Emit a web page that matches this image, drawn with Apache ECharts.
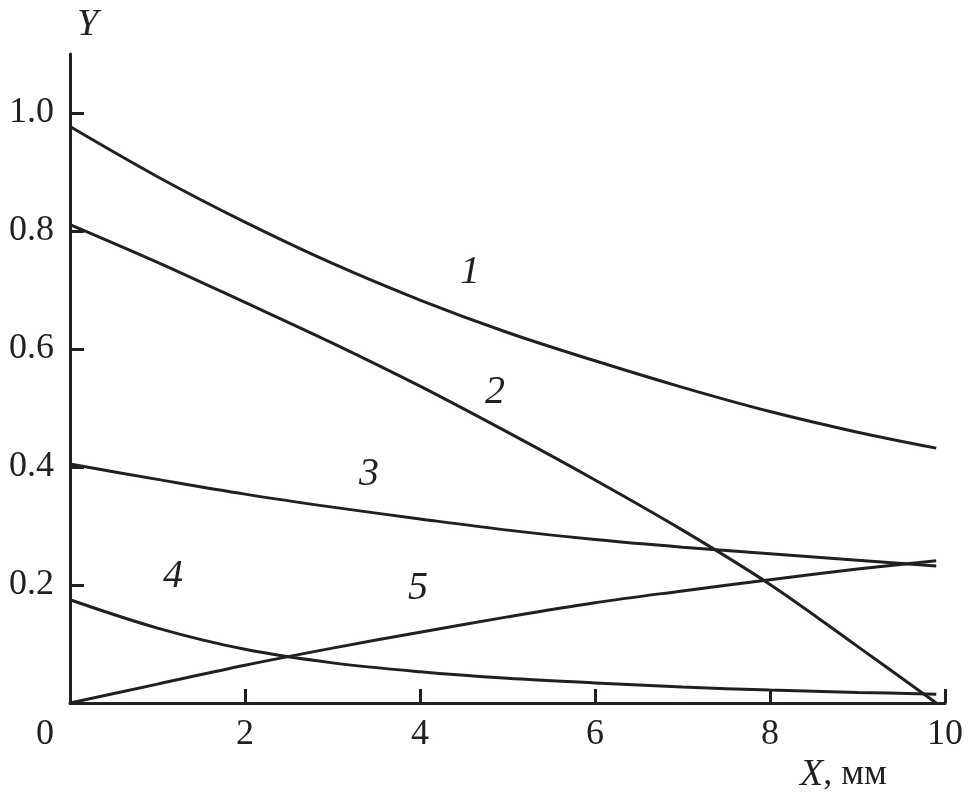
<!DOCTYPE html>
<html><head><meta charset="utf-8">
<script src="https://cdn.jsdelivr.net/npm/echarts@6/dist/echarts.min.js"></script>
<style>html,body{margin:0;padding:0;background:#fff}#c{width:968px;height:808px}</style>
</head><body><div id="c"></div>
<script>
var xs = [0, 1, 2, 3, 4, 5, 6, 7, 8, 9, 9.9];
var curve1 = [0.977, 0.892, 0.815, 0.745, 0.683, 0.628, 0.580, 0.535, 0.494, 0.459, 0.432];
var curve2 = [0.811, 0.747, 0.679, 0.610, 0.537, 0.459, 0.378, 0.293, 0.201, 0.096, 0.0];
var curve3 = [0.405, 0.379, 0.354, 0.332, 0.312, 0.293, 0.277, 0.264, 0.253, 0.242, 0.232];
var curve4 = [0.175, 0.127, 0.091, 0.068, 0.053, 0.042, 0.034, 0.027, 0.022, 0.018, 0.015];
var curve5 = [0, 0.032, 0.064, 0.093, 0.120, 0.146, 0.170, 0.190, 0.209, 0.227, 0.241];
var curveNames = ['1', '2', '3', '4', '5'];
var yTicks = [0.2, 0.4, 0.6, 0.8, 1.0];
var xTicks = [0, 2, 4, 6, 8, 10];

var INK = '#231f20';
var FONT = "'Liberation Serif', 'Times New Roman', Times, serif";
function pairs(ys) { return xs.map(function (x, i) { return [x, ys[i]]; }); }
var all = [curve1, curve2, curve3, curve4, curve5];

var chart = echarts.init(document.getElementById('c'), null, {renderer: 'canvas'});
chart.setOption({
  backgroundColor: '#fff',
  animation: false,
  grid: {left: 70, right: 23, top: 54, bottom: 105, containLabel: false},
  xAxis: {
    type: 'value', min: 0, max: 10, interval: 2,
    axisLine: {show: true, lineStyle: {color: INK, width: 3}},
    axisTick: {show: true, inside: true, length: 14, lineStyle: {color: INK, width: 3}, customValues: xTicks},
    axisLabel: {
      customValues: xTicks,
      color: INK, fontFamily: FONT, fontSize: 36, margin: 14,
      formatter: function (v) { return v === 0 ? '{z|0}' : String(v); },
      rich: {z: {fontFamily: FONT, fontSize: 36, color: INK, padding: [0, 50, 0, 0]}}
    },
    splitLine: {show: false}
  },
  yAxis: {
    type: 'value', min: 0, max: 1.1,
    axisLine: {show: true, lineStyle: {color: INK, width: 3}},
    axisTick: {show: true, inside: true, length: 14, lineStyle: {color: INK, width: 3}, customValues: yTicks},
    axisLabel: {
      customValues: yTicks,
      color: INK, fontFamily: FONT, fontSize: 36, margin: 16,
      formatter: function (v) { return v.toFixed(1); }
    },
    splitLine: {show: false}
  },
  graphic: [
    {type: 'text', left: 77, top: 6, style: {text: 'Y', fontFamily: FONT, fontSize: 38, fontStyle: 'italic', fill: INK}},
    {type: 'text', left: 800, top: 756, style: {text: '{i|X}, мм', fontFamily: FONT, fontSize: 36, fill: INK,
      rich: {i: {fontFamily: FONT, fontSize: 38, fontStyle: 'italic', fill: INK}}}},
    {type: 'text', x: 470, y: 272, style: {text: curveNames[0], fontFamily: FONT, fontSize: 40, fontStyle: 'italic', fill: INK, align: 'center', verticalAlign: 'middle'}},
    {type: 'text', x: 495, y: 392, style: {text: curveNames[1], fontFamily: FONT, fontSize: 40, fontStyle: 'italic', fill: INK, align: 'center', verticalAlign: 'middle'}},
    {type: 'text', x: 369, y: 474, style: {text: curveNames[2], fontFamily: FONT, fontSize: 40, fontStyle: 'italic', fill: INK, align: 'center', verticalAlign: 'middle'}},
    {type: 'text', x: 173, y: 576, style: {text: curveNames[3], fontFamily: FONT, fontSize: 40, fontStyle: 'italic', fill: INK, align: 'center', verticalAlign: 'middle'}},
    {type: 'text', x: 418, y: 588, style: {text: curveNames[4], fontFamily: FONT, fontSize: 40, fontStyle: 'italic', fill: INK, align: 'center', verticalAlign: 'middle'}}
  ],
  series: all.map(function (ys, i) {
    return {
      name: curveNames[i], type: 'line', data: pairs(ys), smooth: 0.35,
      showSymbol: false, symbol: 'none', clip: false,
      lineStyle: {color: INK, width: 3}
    };
  })
});
</script></body></html>
